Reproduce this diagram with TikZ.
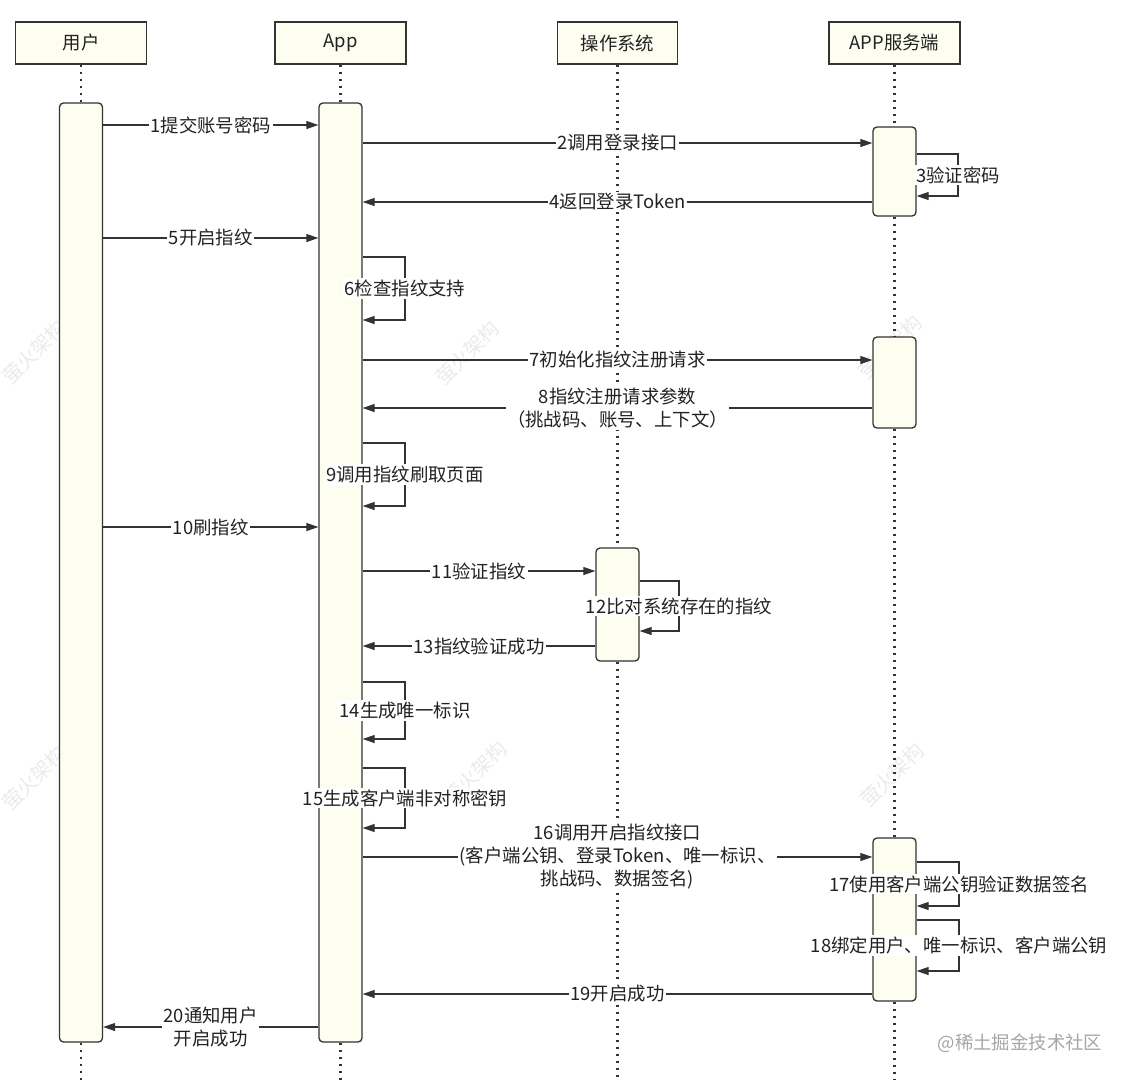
\documentclass[tikz,border=0pt]{standalone}
\usepackage{fontspec}
\setmainfont{Noto Sans CJK SC}
\usetikzlibrary{arrows.meta}
\definecolor{ln}{HTML}{333333}
\definecolor{tx}{HTML}{222222}
\definecolor{bx}{HTML}{FEFEF0}
\begin{document}
\begin{tikzpicture}[x=1pt,y=-1pt,
  every node/.style={font=\fontsize{18.4}{23}\selectfont, text=tx},
  head/.style={draw=ln, line width=1.3pt, fill=bx, minimum height=42pt, inner sep=0pt},
  bar/.style={draw=ln, line width=1.3pt, fill=bx, rounded corners=4pt, minimum width=43pt, inner sep=0pt},
  life/.style={draw=ln, line width=2.6pt, dash pattern=on 2.6pt off 4.4pt},
  msg/.style={draw=ln, line width=1.1pt, -{Triangle[length=12pt,width=8pt]}},
  lbl/.style={fill=white, inner sep=1.5pt, align=center},
  wm/.style={text=black!8, rotate=45, font=\fontsize{20}{20}\selectfont}]
\path[use as bounding box, fill=white] (0,0) rectangle (1128,1080);

% watermarks
\node[wm] (w1) at (34,352) {萤火架构};
\node[wm] (w2) at (467,353) {萤火架构};
\node[wm] (w3) at (890,347) {萤火架构};
\node[wm] (w4) at (34,778) {萤火架构};
\node[wm] (w5) at (475,773) {萤火架构};
\node[wm] (w6) at (892,775) {萤火架构};

% headers
\node[head, minimum width=131pt] (hu) at (81,43) {用户};
\node[head, minimum width=131pt] (ha) at (340.5,43) {App};
\node[head, minimum width=120pt] (ho) at (617.5,43) {操作系统};
\node[head, minimum width=131pt] (hs) at (894.5,43) {APP服务端};

% activation bars
\node[bar, minimum height=939pt] (ub) at (81,572.5) {};
\node[bar, minimum height=939pt] (ab) at (340.5,572.5) {};
\node[bar, minimum height=113pt] (ob) at (617.5,604.5) {};
\node[bar, minimum height=89pt] (sb1) at (894.5,171.5) {};
\node[bar, minimum height=91pt] (sb2) at (894.5,382.5) {};
\node[bar, minimum height=163pt] (sb3) at (894.5,919.5) {};

% lifelines
\draw[life] (hu.south) -- (ub.north);
\draw[life] (ub.south) -- (ub.south |- 0,1080);
\draw[life] (ha.south) -- (ab.north);
\draw[life] (ab.south) -- (ab.south |- 0,1080);
\draw[life] (ho.south) -- (ob.north);
\draw[life] (ob.south) -- (ob.south |- 0,1080);
\draw[life] (hs.south) -- (sb1.north);
\draw[life] (sb1.south) -- (sb2.north);
\draw[life] (sb2.south) -- (sb3.north);
\draw[life] (sb3.south) -- (sb3.south |- 0,1080);

% messages
\draw[msg] (ub.east |- 0,125) -- node[lbl] (l1) {1提交账号密码} (ab.west |- 0,125);
\draw[msg] (ab.east |- 0,143) -- node[lbl] (l2) {2调用登录接口} (sb1.west |- 0,143);
\draw[msg] (sb1.east |- 0,154) -- (958,154) -- node[lbl] (l3) {3验证密码} (958,196) -- (sb1.east |- 0,196);
\draw[msg] (sb1.west |- 0,202) -- node[lbl] (l4) {4返回登录Token} (ab.east |- 0,202);
\draw[msg] (ub.east |- 0,238) -- node[lbl] (l5) {5开启指纹} (ab.west |- 0,238);
\draw[msg] (ab.east |- 0,257) -- (405,257) -- node[lbl] (l6) {6检查指纹支持} (405,320) -- (ab.east |- 0,320);
\draw[msg] (ab.east |- 0,360) -- node[lbl] (l7) {7初始化指纹注册请求} (sb2.west |- 0,360);
\draw[msg] (sb2.west |- 0,408) -- node[lbl] (l8) {8指纹注册请求参数\\（挑战码、账号、上下文）} (ab.east |- 0,408);
\draw[msg] (ab.east |- 0,443) -- (405,443) -- node[lbl] (l9) {9调用指纹刷取页面} (405,506) -- (ab.east |- 0,506);
\draw[msg] (ub.east |- 0,527) -- node[lbl] (l10) {10刷指纹} (ab.west |- 0,527);
\draw[msg] (ab.east |- 0,571) -- node[lbl] (l11) {11验证指纹} (ob.west |- 0,571);
\draw[msg] (ob.east |- 0,581) -- (679,581) -- node[lbl] (l12) {12比对系统存在的指纹} (679,631) -- (ob.east |- 0,631);
\draw[msg] (ob.west |- 0,646) -- node[lbl] (l13) {13指纹验证成功} (ab.east |- 0,646);
\draw[msg] (ab.east |- 0,682) -- (405,682) -- node[lbl] (l14) {14生成唯一标识} (405,739) -- (ab.east |- 0,739);
\draw[msg] (ab.east |- 0,768) -- (405,768) -- node[lbl] (l15) {15生成客户端非对称密钥} (405,828) -- (ab.east |- 0,828);
\draw[msg] (ab.east |- 0,857) -- node[lbl] (l16) {16调用开启指纹接口\\(客户端公钥、登录Token、唯一标识、\\挑战码、数据签名)} (sb3.west |- 0,857);
\draw[msg] (sb3.east |- 0,862) -- (959,862) -- node[lbl] (l17) {17使用客户端公钥验证数据签名} (959,906) -- (sb3.east |- 0,906);
\draw[msg] (sb3.east |- 0,920) -- (959,920) -- node[lbl] (l18) {18绑定用户、唯一标识、客户端公钥} (959,971) -- (sb3.east |- 0,971);
\draw[msg] (sb3.west |- 0,994) -- node[lbl] (l19) {19开启成功} (ab.east |- 0,994);
\draw[msg] (ab.west |- 0,1027) -- node[lbl] (l20) {20通知用户\\开启成功} (ub.east |- 0,1027);

\node[text=black!35] (wmk) at (1020,1043) {@稀土掘金技术社区};
\end{tikzpicture}
\end{document}
